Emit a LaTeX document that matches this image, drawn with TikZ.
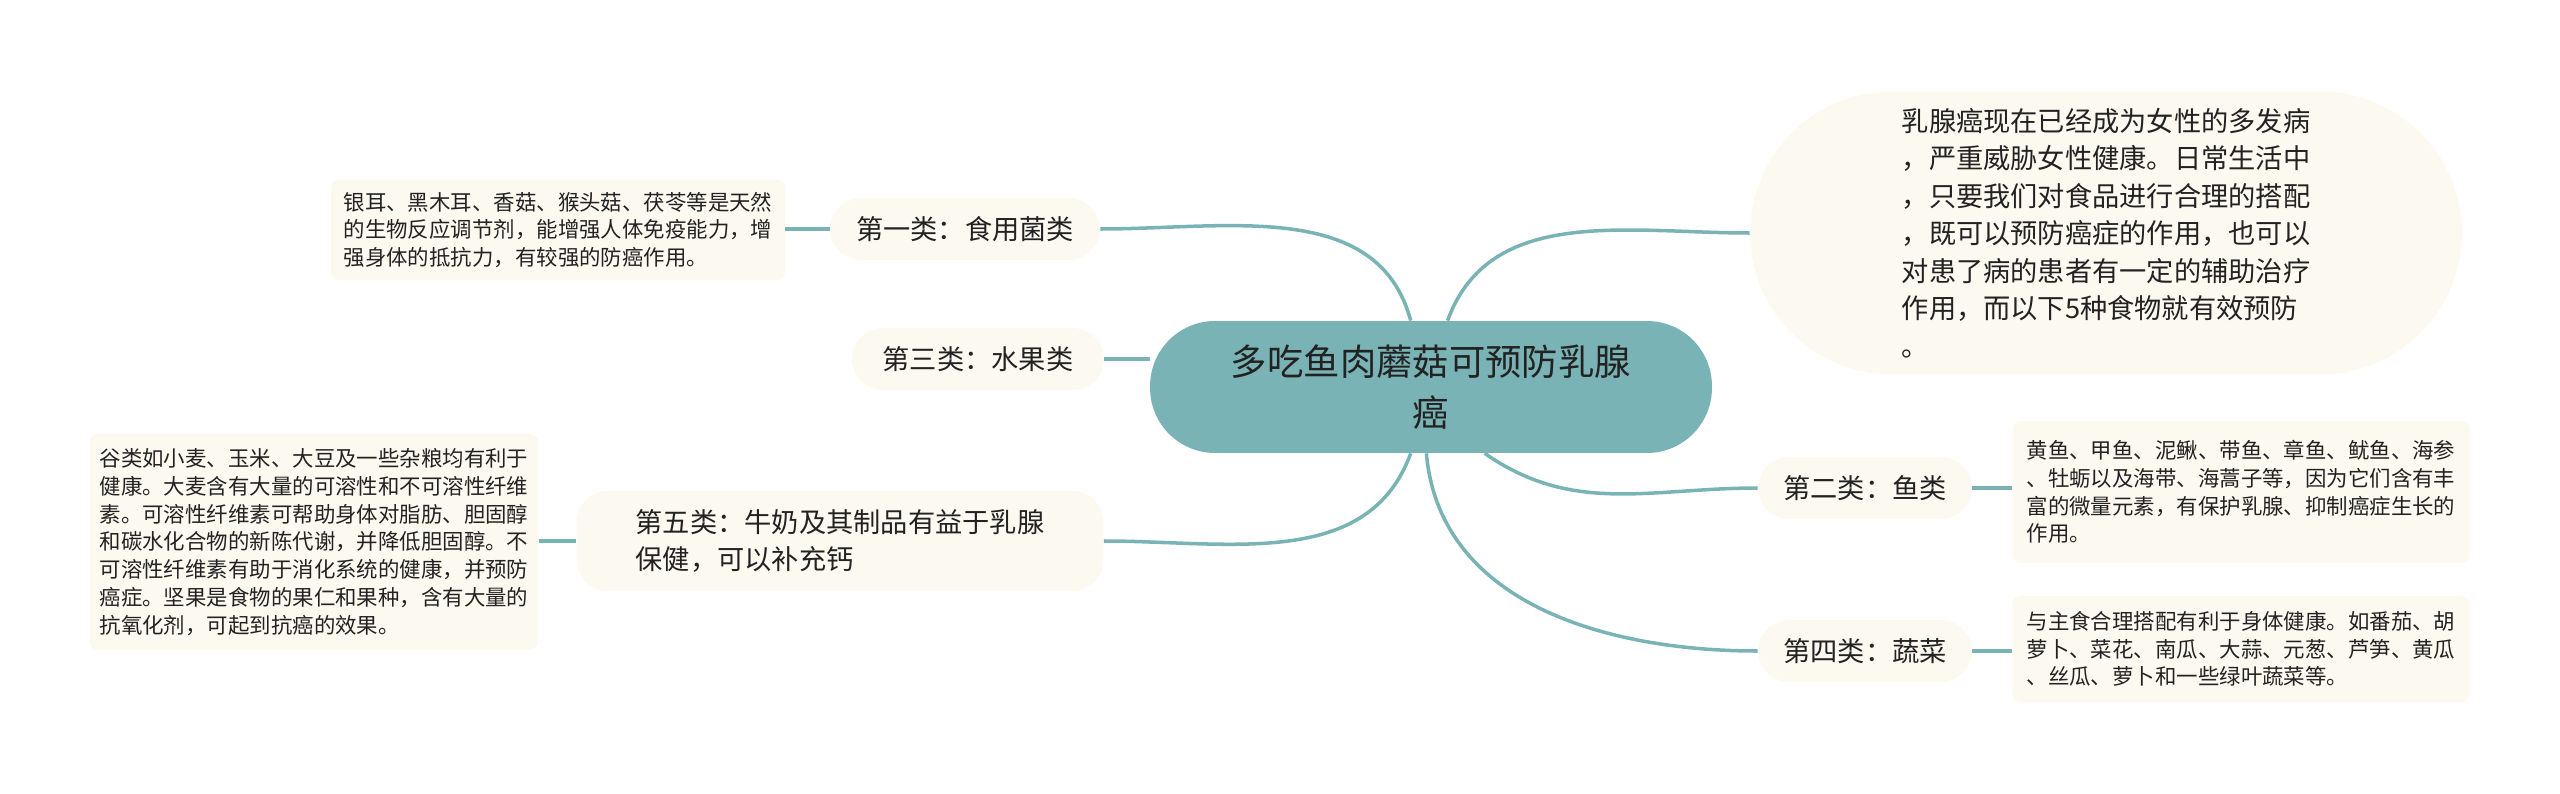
\documentclass[tikz,border=0pt]{standalone}
\usepackage{fontspec}
\setmainfont{Noto Sans CJK SC}
\usepackage{tikz}
\usetikzlibrary{positioning}
\definecolor{teal1}{HTML}{7AB3B5}
\definecolor{cream}{HTML}{FCFAF0}
\definecolor{ink}{HTML}{222222}
\tikzset{centernode/.style={rectangle, rounded corners=1.3cm, fill=teal1, text=ink, minimum width=11.24cm, minimum height=2.64cm, align=center, font=\fontsize{20.7pt}{28.7pt}\selectfont},
branchnode/.style={rectangle, rounded corners=0.62cm, fill=cream, text=ink, minimum height=1.24cm, align=left, font=\fontsize{15.5pt}{21pt}\selectfont},
descnode/.style={rectangle, rounded corners=0.16cm, fill=cream, text=ink, align=left, font=\fontsize{12.2pt}{15.8pt}\selectfont},
intronode/.style={rectangle, rounded corners=2.83cm, fill=cream, text=ink, inner ysep=1pt, minimum width=14.24cm, minimum height=5.66cm, align=left, font=\fontsize{15.5pt}{21.3pt}\selectfont},
link/.style={draw=teal1, line width=2pt},}

\begin{document}
\begin{tikzpicture}[x=0.02cm, y=-0.02cm]
\useasboundingbox (0,0) rectangle (2560,794);
\node [centernode] (c) at (1431,387) {多吃鱼肉蘑菇可预防乳腺\\癌};
\node [intronode] (intro) at (2106,233) {乳腺癌现在已经成为女性的多发病\\，严重威胁女性健康。日常生活中\\，只要我们对食品进行合理的搭配\\，既可以预防癌症的作用，也可以\\对患了病的患者有一定的辅助治疗\\作用，而以下5种食物就有效预防\\。};
\node [branchnode, minimum width=5.4cm] (b1) at (965,229) {第一类：食用菌类};
\node [branchnode, minimum width=5.04cm] (b3) at (978,359) {第三类：水果类};
\node [branchnode, minimum width=10.54cm, minimum height=2cm] (b5) at (840,541) {第五类：牛奶及其制品有益于乳腺\\保健，可以补充钙};
\node [branchnode, minimum width=4.28cm] (b2) at (1865,488) {第二类：鱼类};
\node [branchnode, minimum width=4.28cm] (b4) at (1865,651) {第四类：蔬菜};
\node [descnode, minimum width=9.08cm, minimum height=2.02cm] (d1) at (558,230) {银耳、黑木耳、香菇、猴头菇、茯苓等是天然\\的生物反应调节剂，能增强人体免疫能力，增\\强身体的抵抗力，有较强的防癌作用。};
\node [descnode, minimum width=8.98cm, minimum height=4.32cm] (d5) at (314,542) {谷类如小麦、玉米、大豆及一些杂粮均有利于\\健康。大麦含有大量的可溶性和不可溶性纤维\\素。可溶性纤维素可帮助身体对脂肪、胆固醇\\和碳水化合物的新陈代谢，并降低胆固醇。不\\可溶性纤维素有助于消化系统的健康，并预防\\癌症。坚果是食物的果仁和果种，含有大量的\\抗氧化剂，可起到抗癌的效果。};
\node [descnode, minimum width=9.14cm, minimum height=2.84cm] (d2) at (2241,492) {黄鱼、甲鱼、泥鳅、带鱼、章鱼、鱿鱼、海参\\、牡蛎以及海带、海蒿子等，因为它们含有丰\\富的微量元素，有保护乳腺、抑制癌症生长的\\作用。};
\node [descnode, minimum width=9.14cm, minimum height=2.12cm] (d4) at (2241,649) {与主食合理搭配有利于身体健康。如番茄、胡\\萝卜、菜花、南瓜、大蒜、元葱、芦笋、黄瓜\\、丝瓜、萝卜和一些绿叶蔬菜等。};
% from the centre
\draw [link] (c.107) to[out=105, in=0] (b1.east);
\draw [link] (c.76) to[out=70, in=180] (intro.west);
\draw [link] (b3.east) -- (c.west |- b3.east);
\draw [link] (c.253) to[out=-110, in=0] (b5.east);
\draw [link] (c.266) to[out=-85, in=180] (b4.west);
\draw [link] (c.309) to[out=-35, in=180] (b2.west);
% to the texts
\draw [link] (b1.west) -- (d1.east |- b1.west);
\draw [link] (b5.west) -- (d5.east |- b5.west);
\draw [link] (b2.east) -- (d2.west |- b2.east);
\draw [link] (b4.east) -- (d4.west |- b4.east);
\end{tikzpicture}
\end{document}
